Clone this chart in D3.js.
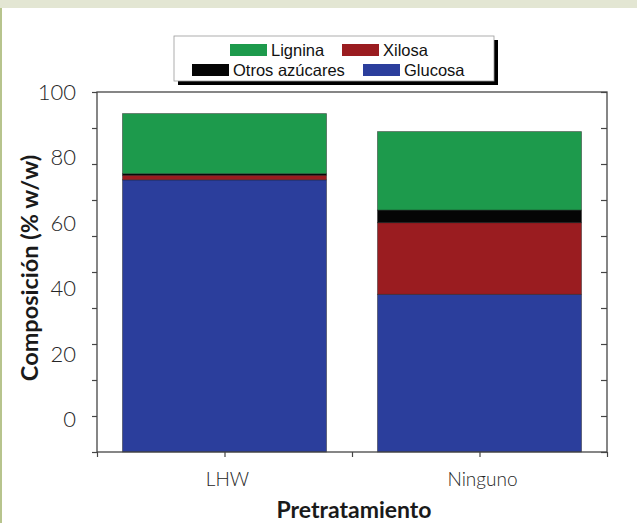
<!DOCTYPE html>
<html>
<head>
<meta charset="utf-8">
<script src="https://cdn.jsdelivr.net/npm/d3@7"></script>
<style>
  html, body { margin: 0; padding: 0; background: #ffffff; }
  svg { display: block; }
</style>
</head>
<body>
<script>
// Composition of the solid fraction for each pretreatment (% w/w)
const categories = ["LHW", "Ninguno"];
const glucosa = [75.6, 43.8];
const xilosa = [1.3, 19.9];
const otrosAzucares = [0.4, 3.5];
const lignina = [16.7, 21.8];

const seriesNames = ["Glucosa", "Xilosa", "Otros azúcares", "Lignina"];
const seriesColors = ["#2b3e9c", "#9a1c20", "#050505", "#1d9a4c"];
const yTickLabels = [0, 20, 40, 60, 80, 100];
const legendRows = [["Lignina", "Xilosa"], ["Otros azúcares", "Glucosa"]];

const W = 637, H = 523;
const svg = d3.select("body").append("svg").attr("width", W).attr("height", H);

// page frame: pale band on top, olive rule on the left
svg.append("rect").attr("x", 0).attr("y", 0).attr("width", W).attr("height", H).attr("fill", "#ffffff");
svg.append("rect").attr("x", 0).attr("y", 0).attr("width", W).attr("height", 8).attr("fill", "#e3e6d3");
svg.append("rect").attr("x", 0).attr("y", 8).attr("width", 2).attr("height", H - 8).attr("fill", "#b7c48d");

const plot = { left: 97, right: 607, top: 92, bottom: 452 };

// category positions: 1, 2 on a linear axis running from 0.5 to 2.5
const x = d3.scaleLinear().domain([0.5, 2.5]).range([plot.left, plot.right]);
const y = d3.scaleLinear().domain([0, 100]).range([plot.bottom, plot.top]);
// printed value labels sit on their own scale
const yLab = d3.scaleLinear().domain([-10, 100]).range([plot.bottom, plot.top]);

const barWidth = 0.8;
const table = categories.map((c, i) => ({
  cat: c, pos: i + 1,
  "Glucosa": glucosa[i], "Xilosa": xilosa[i],
  "Otros azúcares": otrosAzucares[i], "Lignina": lignina[i]
}));
const stacked = d3.stack().keys(seriesNames)(table);

const bars = svg.append("g");
stacked.forEach((layer, li) => {
  bars.selectAll(null).data(layer).enter().append("rect")
    .attr("x", d => x(d.data.pos - barWidth / 2))
    .attr("width", d => x(d.data.pos + barWidth / 2) - x(d.data.pos - barWidth / 2))
    .attr("y", d => y(d[1]))
    .attr("height", d => y(d[0]) - y(d[1]))
    .attr("fill", seriesColors[li])
    .attr("stroke", "#1a1a1a")
    .attr("stroke-opacity", 0.55)
    .attr("stroke-width", 0.8);
});

const axisColor = "#454545";

// frame
svg.append("rect")
  .attr("x", plot.left).attr("y", plot.top)
  .attr("width", plot.right - plot.left).attr("height", plot.bottom - plot.top)
  .attr("fill", "none").attr("stroke", axisColor).attr("stroke-width", 1.3);

// left ticks (outward), right ticks (inward)
const yTicks = d3.range(0, 101, 10);
const leftAxis = svg.append("g").attr("transform", `translate(${plot.left},0)`)
  .call(d3.axisLeft(y).tickValues(yTicks).tickSize(5).tickFormat(""));
const rightAxis = svg.append("g").attr("transform", `translate(${plot.right},0)`)
  .call(d3.axisLeft(y).tickValues(yTicks).tickSize(6).tickFormat(""));
[leftAxis, rightAxis].forEach(g => {
  g.select(".domain").remove();
  g.selectAll("line").attr("stroke", axisColor).attr("stroke-width", 1.2);
});

// bottom ticks
const bottomAxis = svg.append("g").attr("transform", `translate(0,${plot.bottom})`)
  .call(d3.axisBottom(x).tickValues([0.5, 1, 1.5, 2, 2.5]).tickSize(5).tickFormat(""));
bottomAxis.select(".domain").remove();
bottomAxis.selectAll("line").attr("stroke", axisColor).attr("stroke-width", 1.2);

// y value labels
const labelFont = "Lato, 'Open Sans', sans-serif";
svg.append("g").selectAll("text").data(yTickLabels).enter().append("text")
  .attr("x", 76).attr("y", d => yLab(d))
  .attr("dy", "0.36em")
  .attr("text-anchor", "end")
  .attr("font-family", labelFont).attr("font-weight", 300)
  .attr("font-size", 22).attr("fill", "#262626")
  .text(d => d);

// category labels
svg.append("g").selectAll("text").data(table).enter().append("text")
  .attr("x", d => x(d.pos) + 3).attr("y", 486)
  .attr("text-anchor", "middle")
  .attr("font-family", labelFont).attr("font-weight", 300)
  .attr("font-size", 19).attr("fill", "#262626")
  .text(d => d.cat);

// axis titles
svg.append("text")
  .attr("transform", `translate(38,268) rotate(-90)`)
  .attr("text-anchor", "middle")
  .attr("font-family", labelFont).attr("font-weight", 700)
  .attr("font-size", 23.5).attr("fill", "#1a1a1a")
  .text("Composición (% w/w)");
svg.append("text")
  .attr("x", 354).attr("y", 518)
  .attr("text-anchor", "middle")
  .attr("font-family", labelFont).attr("font-weight", 700)
  .attr("font-size", 23).attr("fill", "#1a1a1a")
  .text("Pretratamiento");

// legend
const lg = { x: 174, y: 36, w: 320, h: 45 };
svg.append("rect").attr("x", lg.x + 4).attr("y", lg.y + 4).attr("width", lg.w).attr("height", lg.h).attr("fill", "#000");
svg.append("rect").attr("x", lg.x).attr("y", lg.y).attr("width", lg.w).attr("height", lg.h)
  .attr("fill", "#ffffff").attr("stroke", "#9a9a9a").attr("stroke-width", 0.8);

const legendItemX = [[230, 342], [192, 363]];
const legendRowY = [44, 64];
legendRows.forEach((row, ri) => {
  row.forEach((name, ci) => {
    const sx = legendItemX[ri][ci], sy = legendRowY[ri];
    svg.append("rect").attr("x", sx).attr("y", sy).attr("width", 37).attr("height", 12)
      .attr("fill", seriesColors[seriesNames.indexOf(name)]);
    svg.append("text").attr("x", sx + 41).attr("y", sy + 12)
      .attr("font-family", "'Liberation Sans', Arial, sans-serif")
      .attr("font-size", 16.5).attr("fill", "#111")
      .text(name);
  });
});
</script>
</body>
</html>
